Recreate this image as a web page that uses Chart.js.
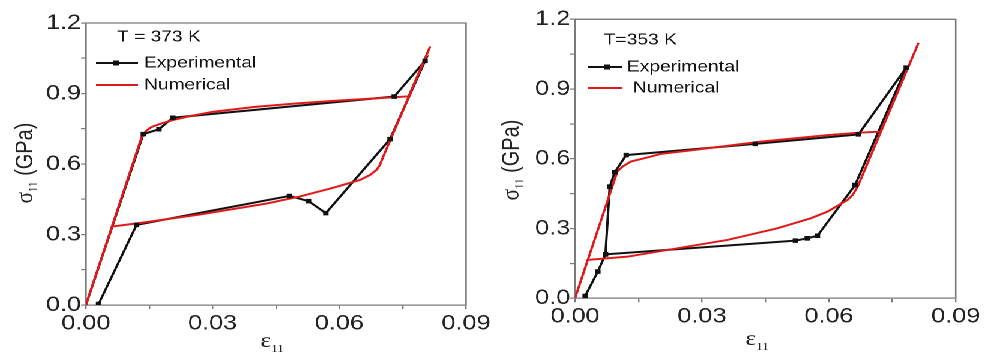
<!DOCTYPE html>
<html>
<head>
<meta charset="utf-8">
<script src="https://cdn.jsdelivr.net/npm/chart.js@4.4.0/dist/chart.umd.min.js"></script>
<style>
  html, body { margin: 0; padding: 0; background: #fff; overflow: hidden; }
  /* both panels are laid out narrow and widened a bit, like the printed figure */
  #wrap { position: absolute; left: 0; top: 0; width: 823px; height: 352px; transform: scaleX(1.2005); transform-origin: 0 0; }
  canvas { position: absolute; top: 0; }
  #c373 { left: 0; }
  #c353 { left: 412px; }
</style>
</head>
<body>
<div id="wrap">
  <canvas id="c373" width="412" height="352"></canvas>
  <canvas id="c353" width="411" height="352"></canvas>
</div>
<script>
// tick labels
const xTickLabels = ['0.00', '0.03', '0.06', '0.09'];
const yTickLabels = ['0.0', '0.3', '0.6', '0.9', '1.2'];

// T = 373 K, experimental loop (strain, stress in GPa)
const expStrain373 = [0.0, 0.0136, 0.0173, 0.0206, 0.0730, 0.0803, 0.0720, 0.0568, 0.0527, 0.0482, 0.0120, 0.0030];
const expStress373 = [0.0, 0.727, 0.748, 0.797, 0.887, 1.039, 0.706, 0.391, 0.442, 0.464, 0.341, 0.004];

// T = 373 K, numerical loop
const numStrain373 = [0, 0.0132, 0.0142, 0.0155, 0.0180, 0.0206, 0.0250, 0.0300, 0.0400, 0.0500, 0.0600, 0.0700, 0.0764, 0.0815,
  0.0704, 0.0696, 0.0688, 0.0673, 0.0649, 0.0586, 0.0507, 0.0428, 0.0270, 0.0128, 0.0062, 0];
const numStress373 = [0, 0.715, 0.740, 0.757, 0.773, 0.787, 0.805, 0.822, 0.843, 0.858, 0.870, 0.881, 0.888, 1.100,
  0.632, 0.596, 0.575, 0.554, 0.532, 0.499, 0.462, 0.432, 0.385, 0.349, 0.334, 0];

// T = 353 K, experimental loop
const expStrain353 = [0.0024, 0.0054, 0.0072, 0.0082, 0.0094, 0.0121, 0.0426, 0.0670, 0.0783, 0.0662, 0.0573, 0.0549, 0.0521, 0.0072];
const expStress353 = [0.010, 0.115, 0.189, 0.480, 0.542, 0.616, 0.664, 0.705, 0.992, 0.487, 0.269, 0.258, 0.248, 0.189];

// T = 353 K, numerical loop
const numStrain353 = [0, 0.0100, 0.0112, 0.0132, 0.0163, 0.0203, 0.0281, 0.0439, 0.0597, 0.0670, 0.0723, 0.0812,
  0.0668, 0.0656, 0.0644, 0.0628, 0.0597, 0.0557, 0.0478, 0.0360, 0.0242, 0.0124, 0.0030, 0];
const numStress353 = [0, 0.545, 0.566, 0.588, 0.602, 0.621, 0.638, 0.674, 0.702, 0.712, 0.717, 1.099,
  0.480, 0.444, 0.423, 0.406, 0.373, 0.344, 0.301, 0.251, 0.215, 0.179, 0.165, 0];

const SANS = '"Liberation Sans", Arial, sans-serif';
const SERIF = '"Liberation Serif", "Times New Roman", serif';
const RED = '#e01a1a';
const INK = '#111';
const AXIS = '#7a7a7a';

Chart.defaults.font.family = SANS;

const toPoints = (xs, ys) => xs.map((x, i) => ({ x: x, y: ys[i] }));

// box, temperature note, legend and the axis titles with subscripts
const framePlugin = {
  id: 'frame',
  afterDraw(chart, args, o) {
    const ctx = chart.ctx;
    const a = chart.chartArea;
    ctx.save();

    ctx.strokeStyle = AXIS;
    ctx.lineWidth = 1.3;
    ctx.beginPath();
    ctx.moveTo(a.left, a.top);
    ctx.lineTo(a.right, a.top);
    ctx.lineTo(a.right, a.bottom);
    ctx.stroke();

    ctx.fillStyle = INK;
    ctx.textBaseline = 'middle';
    ctx.textAlign = 'left';
    ctx.font = '16px ' + SANS;
    ctx.fillText(o.note, o.noteX, o.noteY);

    // legend
    ctx.lineWidth = 2;
    ctx.strokeStyle = INK;
    ctx.beginPath();
    ctx.moveTo(o.legX0, o.legY1);
    ctx.lineTo(o.legX1, o.legY1);
    ctx.stroke();
    ctx.fillRect(o.legMark - 2.5, o.legY1 - 2.5, 5, 5);
    ctx.fillText(chart.data.datasets[0].label, o.legText1, o.legY1);

    ctx.strokeStyle = RED;
    ctx.beginPath();
    ctx.moveTo(o.legX0, o.legY2);
    ctx.lineTo(o.legX1, o.legY2);
    ctx.stroke();
    ctx.fillText(chart.data.datasets[1].label, o.legText2, o.legY2);

    // y title: sigma_11 (GPa), read bottom to top
    ctx.save();
    ctx.translate(o.yTitleX, o.yTitleY);
    ctx.rotate(-Math.PI / 2);
    ctx.textBaseline = 'alphabetic';
    ctx.fillStyle = '#222';
    const fSym = '21px ' + SERIF, fSub = '11px ' + SERIF, fTxt = '20px ' + SANS;
    ctx.font = fSym; const w1 = ctx.measureText('σ').width;
    ctx.font = fSub; const w2 = ctx.measureText('11').width;
    ctx.font = fTxt; const w3 = ctx.measureText(' (GPa)').width;
    let x = -(w1 + w2 + w3) / 2;
    ctx.font = fSym; ctx.fillText('σ', x, 6); x += w1;
    ctx.font = fSub; ctx.fillText('11', x, 10); x += w2;
    ctx.font = fTxt; ctx.fillText(' (GPa)', x, 6);
    ctx.restore();

    // x title: epsilon_11
    ctx.textBaseline = 'alphabetic';
    ctx.fillStyle = '#222';
    ctx.font = fSym; const e1 = ctx.measureText('ε').width;
    ctx.font = fSub; const e2 = ctx.measureText('11').width;
    const ex = o.xTitleX - (e1 + e2) / 2;
    ctx.font = fSym; ctx.fillText('ε', ex, o.xTitleY);
    ctx.font = fSub; ctx.fillText('11', ex + e1, o.xTitleY + 5);

    ctx.restore();
  }
};

function makeChart(id, exp, num, look) {
  return new Chart(document.getElementById(id), {
    type: 'scatter',
    data: {
      datasets: [
        { label: 'Experimental', data: exp, showLine: true, borderColor: INK, borderWidth: 2, pointRadius: 0, order: 2 },
        { label: 'Numerical', data: num, showLine: true, borderColor: RED, borderWidth: 2, pointRadius: 0, order: 1 },
        {
          label: 'Experimental markers', data: exp, showLine: false, pointStyle: 'rect',
          pointRadius: ctx => (look.hideFirst && ctx.dataIndex === 0) ? 0 : 3.2,
          backgroundColor: INK, borderColor: INK, borderWidth: 0, order: 0
        }
      ]
    },
    options: {
      responsive: false,
      animation: false,
      devicePixelRatio: 2,
      layout: { padding: { top: look.top, right: look.right, left: 0, bottom: 0 } },
      plugins: { legend: { display: false }, tooltip: { enabled: false }, frame: look },
      scales: {
        x: {
          type: 'linear', min: 0, max: 0.09,
          afterFit: s => { s.height = look.xh; },
          ticks: {
            stepSize: 0.015, autoSkip: false, maxRotation: 0, padding: 2, color: '#222',
            font: { size: 21 },
            callback: (v, i) => (i % 2 ? '' : xTickLabels[i / 2])
          },
          grid: { drawOnChartArea: false, tickLength: 4, color: AXIS, lineWidth: 1.2 },
          border: { color: AXIS, width: 1.3 }
        },
        y: {
          type: 'linear', min: 0, max: 1.2,
          afterFit: s => { s.width = look.yw; },
          ticks: {
            stepSize: 0.15, autoSkip: false, padding: 0, color: '#222',
            font: { size: 21 },
            callback: (v, i) => (i % 2 ? '' : yTickLabels[i / 2])
          },
          grid: { drawOnChartArea: false, tickLength: 4, color: AXIS, lineWidth: 1.2 },
          border: { color: AXIS, width: 1.3 }
        }
      }
    },
    plugins: [framePlugin]
  });
}

makeChart('c373', toPoints(expStrain373, expStress373), toPoints(numStrain373, numStress373), {
  hideFirst: true,
  top: 23, right: 23.8, yw: 71.6, xh: 47,
  note: 'T = 373 K', noteX: 97.5, noteY: 37,
  legX0: 80, legX1: 115, legMark: 96.6, legY1: 63, legY2: 85, legText1: 120, legText2: 120,
  yTitleX: 21, yTitleY: 163, xTitleX: 226.6, xTitleY: 347
});

makeChart('c353', toPoints(expStrain353, expStress353), toPoints(numStrain353, numStress353), {
  hideFirst: false,
  top: 19.3, right: 26.9, yw: 67, xh: 53.7,
  note: 'T=353 K', noteX: 91, noteY: 40,
  legX0: 78, legX1: 106, legMark: 93.6, legY1: 67, legY2: 88, legText1: 110.3, legText2: 115.3,
  yTitleX: 14, yTitleY: 160, xTitleX: 218.6, xTitleY: 345
});
</script>
</body>
</html>
